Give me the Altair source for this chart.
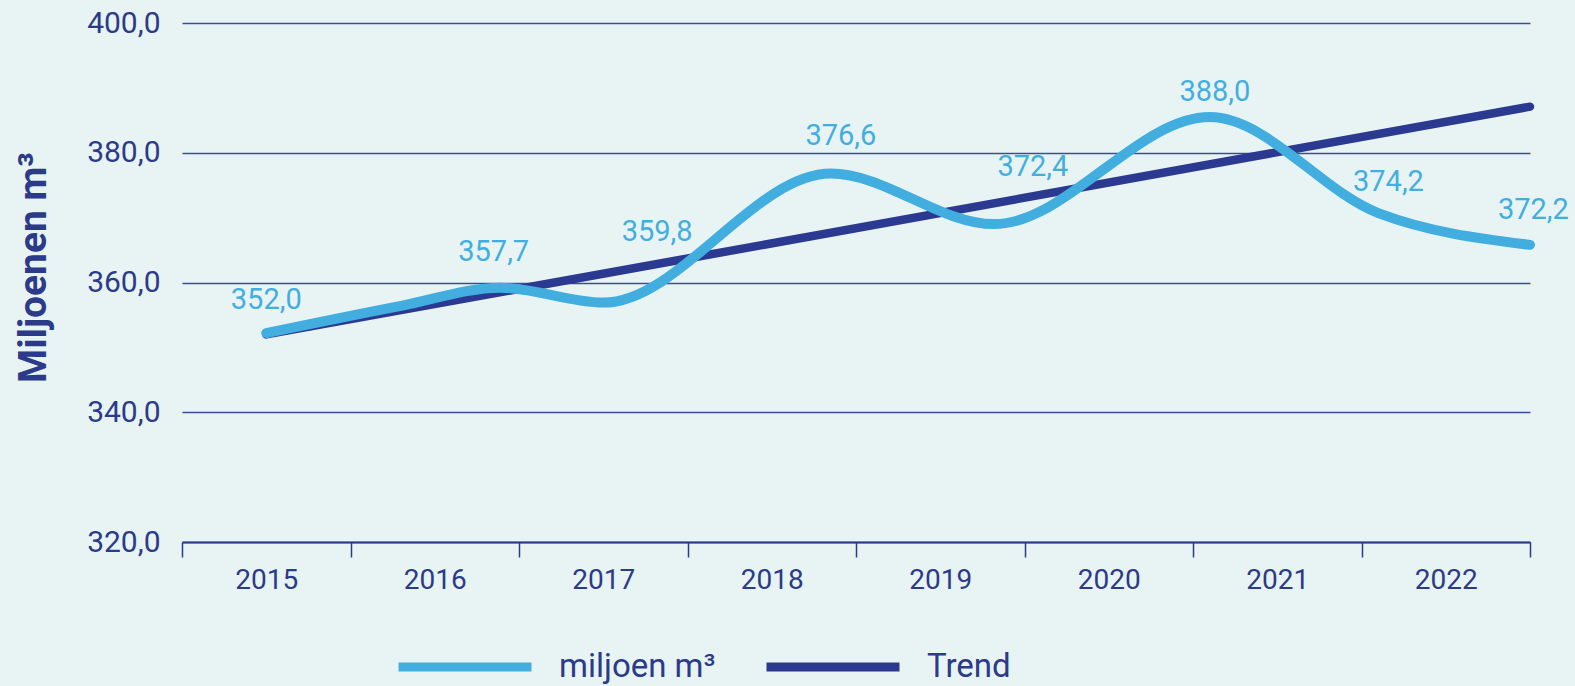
import altair as alt
import pandas as pd

# ---- data ----
years = [2015, 2016, 2017, 2018, 2019, 2020, 2021, 2022]

# light-blue (smoothed) series as drawn: year position / level (miljoen m3)
line_year = [2015.0, 2015.8, 2016.39, 2017.0, 2018.35, 2019.32, 2020.6, 2021.6, 2022.5]
line_level = [352.2, 356.4, 359.2, 356.9, 376.8, 369.0, 385.5, 370.7, 365.8]

# trend line end points
trend_year = [2015.0, 2022.5]
trend_level = [352.0, 387.1]

# printed value labels and where they sit
label_value = [352.0, 357.7, 359.8, 376.6, 372.4, 388.0, 374.2, 372.2]
label_year = [2015.0, 2016.35, 2017.32, 2018.41, 2019.55, 2020.63, 2021.66, 2022.52]
label_level = [357.3, 364.7, 367.8, 382.6, 377.8, 389.4, 375.5, 371.1]

series_names = ["miljoen m³", "Trend"]
y_ticks = [320, 340, 360, 380, 400]

NAVY = "#2c3a8a"
LIGHT = "#42aee0"
TREND = "#2b3990"
BG = "#e8f4f4"
FONT = "Roboto"

line_df = pd.DataFrame({"x": line_year, "y": line_level, "series": series_names[0]})
trend_df = pd.DataFrame({"x": trend_year, "y": trend_level, "series": series_names[1]})
label_df = pd.DataFrame({"x": label_year, "y": label_level, "v": label_value})

x_values = [years[0] - 0.5] + [v for yr in years for v in (yr, yr + 0.5)]

x_enc = alt.X(
    "x:Q",
    scale=alt.Scale(domain=[years[0] - 0.5, years[-1] + 0.5], nice=False, zero=False),
    axis=alt.Axis(
        title=None,
        values=x_values,
        grid=False,
        labelExpr="datum.value % 1 == 0 ? format(datum.value, 'd') : ''",
        labelOverlap=False,
        labelFlush=False,
        tickOpacity={"condition": {"test": "datum.value % 1 != 0", "value": 1}, "value": 0},
        tickSize=15,
        tickWidth=1.5,
        tickColor=NAVY,
        domainColor=NAVY,
        domainWidth=2,
        labelColor=NAVY,
        labelFont=FONT,
        labelFontSize=28,
        labelPadding=9,
    ),
)

y_enc = alt.Y(
    "y:Q",
    scale=alt.Scale(domain=[320, 400], nice=False, zero=False),
    axis=alt.Axis(
        title="Miljoenen m³",
        values=y_ticks,
        grid=True,
        gridColor="#3d4c9a",
        gridWidth=1.5,
        ticks=False,
        domain=False,
        labelExpr="replace(format(datum.value, '.1f'), '.', ',')",
        labelColor=NAVY,
        labelFont=FONT,
        labelFontSize=30,
        labelPadding=22,
        titleFont=FONT,
        titleFontSize=39,
        titleFontWeight="bold",
        titleColor=NAVY,
        titleX=-137,
        titleY=244,
        titleAlign="center",
        titleBaseline="alphabetic",
    ),
)

color_enc = alt.Color(
    "series:N",
    scale=alt.Scale(domain=series_names, range=[LIGHT, TREND]),
    legend=alt.Legend(
        title=None,
        orient="none",
        legendX=212,
        legendY=573,
        direction="horizontal",
        symbolType="stroke",
        symbolSize=17689,
        symbolStrokeWidth=9,
        labelFont=FONT,
        labelFontSize=33,
        labelColor=NAVY,
        labelOffset=23,
        columnPadding=32,
        padding=0,
    ),
)

trend = alt.Chart(trend_df).mark_line(strokeWidth=8.5, strokeCap="round").encode(
    x=x_enc, y=y_enc, color=color_enc
)
light = alt.Chart(line_df).mark_line(
    strokeWidth=10, strokeCap="round", interpolate="monotone"
).encode(x=x_enc, y=y_enc, color=color_enc, order=alt.Order("x:Q"))

labels = alt.Chart(label_df).transform_calculate(
    txt="replace(format(datum.v, '.1f'), '.', ',')"
).mark_text(
    font=FONT, fontSize=29, color=LIGHT, align="center", baseline="middle"
).encode(x=x_enc, y=y_enc, text="txt:N")

chart = (
    alt.layer(trend, light, labels)
    .properties(
        width=1348,
        height=519,
        autosize=alt.AutoSizeParams(type="none"),
        padding={"left": 182, "top": 23, "right": 45, "bottom": 144},
        background=BG,
    )
    .configure_view(strokeWidth=0)
)

chart.save("out.html", embed_options={"renderer": "svg", "actions": False})
